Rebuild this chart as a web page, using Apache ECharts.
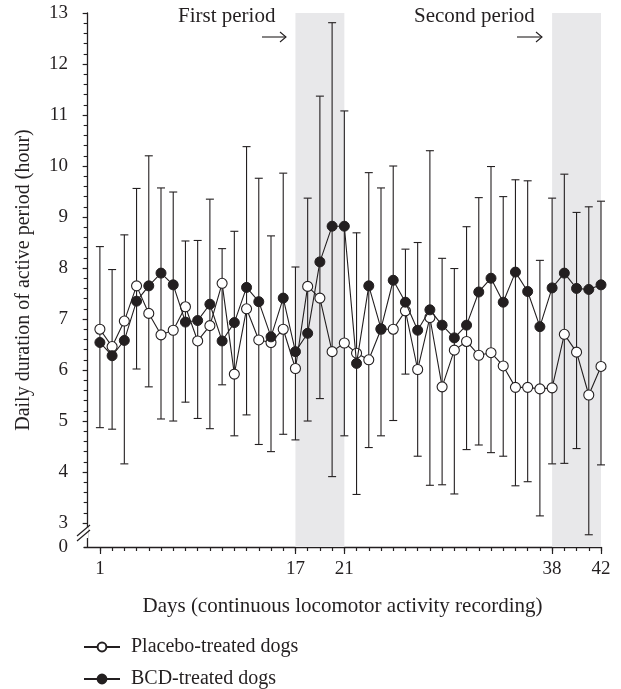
<!DOCTYPE html>
<html lang="en">
<head>
  <meta charset="UTF-8">
  <title>Daily duration of active period</title>
  <script src="https://cdn.jsdelivr.net/npm/echarts@6/dist/echarts.min.js"></script>
</head>
<body style="margin:0;background:#fff;">
<div id="main" style="width:621px;height:689px;"></div>
<script type="text/javascript">

// days of recording
var days = [1, 2, 3, 4, 5, 6, 7, 8, 9, 10, 11, 12, 13, 14, 15, 16, 17, 18, 19, 20, 21,
  22, 23, 24, 25, 26, 27, 28, 29, 30, 31, 32, 33, 34, 35, 36, 37, 38, 39, 40, 41, 42];

// mean daily active period (hour)
var placebo = [6.80, 6.46, 6.96, 7.65, 7.11, 6.69, 6.78, 7.24, 6.57, 6.87, 7.70, 5.92, 7.20, 6.59,
  6.54, 6.80, 6.03, 7.64, 7.41, 6.36, 6.53, 6.33, 6.20, 6.80, 6.80, 7.16, 6.01, 7.03, 5.67, 6.39,
  6.56, 6.29, 6.34, 6.08, 5.66, 5.66, 5.63, 5.65, 6.70, 6.35, 5.51, 6.07];
var bcd = [6.54, 6.28, 6.58, 7.35, 7.65, 7.90, 7.67, 6.94, 6.97, 7.29, 6.57, 6.93, 7.62, 7.34,
  6.65, 7.41, 6.36, 6.72, 8.12, 8.82, 8.82, 6.13, 7.65, 6.81, 7.76, 7.33, 6.78, 7.18, 6.88, 6.63,
  6.88, 7.53, 7.80, 7.33, 7.92, 7.54, 6.85, 7.61, 7.90, 7.60, 7.58, 7.67];

// ends of the error bars (upper / lower)
var errUpper = [8.42, 7.97, 8.65, 9.56, 10.2, 9.57, 9.49, 8.53, 8.54, 9.35, 8.38, 8.72, 10.38, 9.76,
  8.63, 9.86, 8.02, 9.37, 11.37, 12.81, 11.08, 8.69, 9.87, 9.57, 10.0, 8.37, 8.50, 10.3, 8.19, 7.99,
  8.81, 9.38, 9.99, 9.40, 9.73, 9.71, 8.15, 9.37, 9.84, 9.09, 9.20, 9.31];
var errLower = [4.87, 4.84, 4.16, 6.02, 5.67, 5.04, 5.00, 5.37, 5.05, 4.85, 5.71, 4.71, 5.12, 4.54,
  4.40, 4.74, 4.63, 5.00, 5.44, 3.91, 4.71, 3.56, 4.48, 4.71, 5.01, 5.92, 4.31, 3.74, 3.75, 3.57,
  4.44, 4.53, 4.38, 4.31, 3.73, 3.81, 3.14, 4.16, 4.17, 4.46, 2.77, 4.14];

// treatment periods (shaded)
var periods = [[17, 21], [38, 42]];

// axis ticks
var xLabelDays = [1, 17, 21, 38, 42];
var yLabels = [3, 4, 5, 6, 7, 8, 9, 10, 11, 12, 13];
var yMinorTicks = [];
for (var k = 0; k < 10; k++) {
  for (var m = 1; m < 5; m++) yMinorTicks.push(+(3 + k + m * 0.2).toFixed(1));
}

var Y_MIN = 2.53;   // broken axis: bottom edge stands for 0
var X_MIN = -0.3;
var ink = '#231f20';
var serif = 'Liberation Serif';

var myChart = echarts.init(document.getElementById('main'));

var placeboData = days.map(function (d, i) { return [d, placebo[i]]; });
var bcdData = days.map(function (d, i) { return [d, bcd[i]]; });
var errData = days.map(function (d, i) { return [d, errLower[i], errUpper[i]]; });

function renderErr(params, api) {
  var lo = api.coord([api.value(0), api.value(1)]);
  var hi = api.coord([api.value(0), api.value(2)]);
  var hw = 4;
  var st = { stroke: ink, lineWidth: 1.1 };
  return {
    type: 'group',
    children: [
      { type: 'line', shape: { x1: lo[0], y1: lo[1], x2: hi[0], y2: hi[1] }, style: st },
      { type: 'line', shape: { x1: lo[0] - hw, y1: lo[1], x2: lo[0] + hw, y2: lo[1] }, style: st },
      { type: 'line', shape: { x1: hi[0] - hw, y1: hi[1], x2: hi[0] + hw, y2: hi[1] }, style: st }
    ]
  };
}

function arrow(x1, x2, y) {
  return [
    { type: 'line', z: 100, shape: { x1: x1, y1: y, x2: x2, y2: y }, style: { stroke: ink, lineWidth: 1.1 } },
    { type: 'polyline', z: 100, shape: { points: [[x2 - 6, y - 5], [x2, y], [x2 - 6, y + 5]] },
      style: { stroke: ink, lineWidth: 1.1, fill: null } }
  ];
}

function legendFor(name, top) {
  return {
    left: 78, top: top,
    itemWidth: 36, itemHeight: 11,
    textStyle: { fontFamily: serif, fontSize: 20, color: ink, padding: [0, 0, 0, 6] },
    data: [name]
  };
}

var option = {
  backgroundColor: '#fff',
  animation: false,
  textStyle: { fontFamily: serif, color: ink },
  grid: { left: 84, right: 20, top: 13, bottom: 142 },
  xAxis: [{
    type: 'value', min: X_MIN, max: 42,
    name: 'Days (continuous locomotor activity recording)',
    nameLocation: 'middle', nameGap: 49,
    nameTextStyle: { fontFamily: serif, fontSize: 21, color: ink },
    axisLine: { lineStyle: { color: ink, width: 1.3 } },
    axisTick: { customValues: xLabelDays, length: 7, lineStyle: { color: ink, width: 1.2 } },
    axisLabel: { customValues: xLabelDays, fontFamily: serif, fontSize: 19, color: ink, margin: 13 },
    splitLine: { show: false }
  }, {
    type: 'value', min: X_MIN, max: 42, position: 'bottom',
    axisLine: { show: false },
    axisTick: { customValues: days, length: 4, lineStyle: { color: ink, width: 1.2 } },
    axisLabel: { show: false },
    splitLine: { show: false }
  }],
  yAxis: [{
    type: 'value', min: Y_MIN, max: 13,
    name: 'Daily duration of active period (hour)',
    nameLocation: 'middle', nameGap: 50,
    nameTextStyle: { fontFamily: serif, fontSize: 20, color: ink },
    axisLine: { lineStyle: { color: ink, width: 1.3 } },
    axisTick: { customValues: yLabels, length: 5, lineStyle: { color: ink, width: 1.2 } },
    axisLabel: {
      customValues: [Y_MIN].concat(yLabels), fontFamily: serif, fontSize: 19, color: ink, margin: 16,
      formatter: function (v) { return v < 3 ? '0' : String(v); }
    },
    splitLine: { show: false }
  }, {
    type: 'value', min: Y_MIN, max: 13, position: 'left',
    axisLine: { show: false },
    axisTick: { customValues: yMinorTicks, length: 4, lineStyle: { color: ink, width: 1.1 } },
    axisLabel: { show: false },
    splitLine: { show: false }
  }],
  legend: [legendFor('Placebo-treated dogs', 632), legendFor('BCD-treated dogs', 664)],
  graphic: [
    { type: 'text', z: 100, left: 178, top: 6, style: { text: 'First period', font: '21px "Liberation Serif"', fill: ink } },
    { type: 'text', z: 100, left: 414, top: 6, style: { text: 'Second period', font: '21px "Liberation Serif"', fill: ink } },
    // axis break marks
    { type: 'rect', z: 100, shape: { x: 81, y: 527, width: 7, height: 11 }, style: { fill: '#fff' } },
    { type: 'line', z: 101, shape: { x1: 77, y1: 536, x2: 90, y2: 525 }, style: { stroke: ink, lineWidth: 1.2 } },
    { type: 'line', z: 101, shape: { x1: 77, y1: 541, x2: 90, y2: 530 }, style: { stroke: ink, lineWidth: 1.2 } }
  ].concat(arrow(262, 286, 37), arrow(517, 542, 37)),
  series: [{
    type: 'line', data: [], z: 0, silent: true,
    markArea: {
      silent: true,
      itemStyle: { color: '#e8e8ea' },
      data: periods.map(function (p) { return [{ xAxis: p[0] }, { xAxis: p[1] }]; })
    }
  }, {
    type: 'custom', name: 'err', z: 2, silent: true,
    renderItem: renderErr,
    encode: { x: 0, y: [1, 2] },
    data: errData
  }, {
    type: 'line', name: 'Placebo-treated dogs', z: 3,
    data: placeboData,
    symbol: 'circle', symbolSize: 10,
    lineStyle: { color: ink, width: 1.1 },
    itemStyle: { color: '#fff', borderColor: ink, borderWidth: 1.1 }
  }, {
    type: 'line', name: 'BCD-treated dogs', z: 4,
    data: bcdData,
    symbol: 'circle', symbolSize: 10,
    lineStyle: { color: ink, width: 1.1 },
    itemStyle: { color: ink, borderColor: ink, borderWidth: 1 }
  }]
};

myChart.setOption(option);

</script>
</body>
</html>
